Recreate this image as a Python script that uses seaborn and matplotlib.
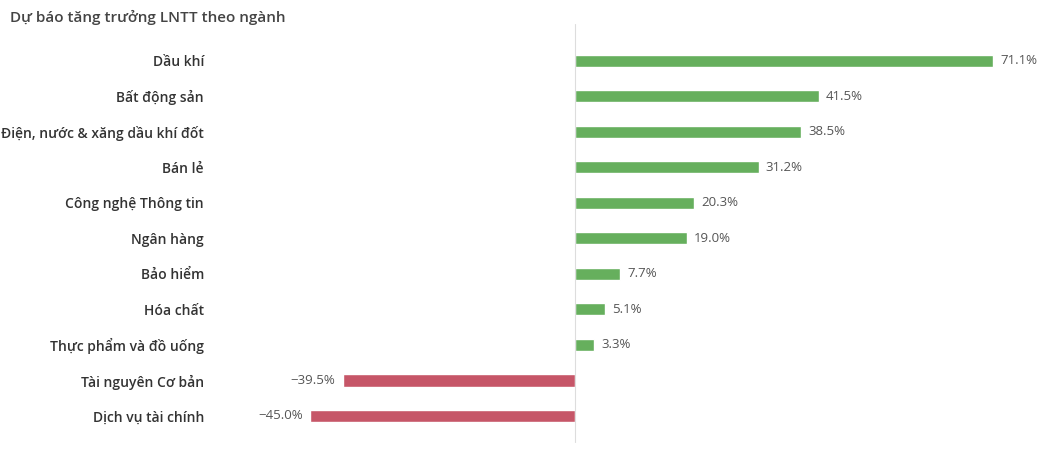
import matplotlib
matplotlib.use("Agg")
import matplotlib.pyplot as plt
import seaborn as sns
import pandas as pd

categories = ["Dầu khí", "Bất động sản", "Điện, nước & xăng dầu khí đốt", "Bán lẻ",
              "Công nghệ Thông tin", "Ngân hàng", "Bảo hiểm", "Hóa chất",
              "Thực phẩm và đồ uống", "Tài nguyên Cơ bản", "Dịch vụ tài chính"]
values = [71.1, 41.5, 38.5, 31.2, 20.3, 19.0, 7.7, 5.1, 3.3, -39.5, -45.0]
labels = ["71.1%", "41.5%", "38.5%", "31.2%", "20.3%", "19.0%", "7.7%", "5.1%", "3.3%", "-39.5%", "-45.0%"]

sns.set_theme(style="white")
plt.rcParams['font.family'] = ['Open Sans', 'DejaVu Sans']

df = pd.DataFrame({"cat": categories, "val": values})
green, red = "#5BBD4F", "#D9435B"
palette = [green if v >= 0 else red for v in values]

fig = plt.figure(figsize=(10.53, 4.49), dpi=100)
ax = fig.add_axes([215/1053, 0.034, 820/1053, 0.87])
sns.barplot(data=df, x="val", y="cat", hue="cat", palette=palette, legend=False,
            width=0.34, ax=ax, orient="h")
ax.set_xlim(-61.2, 78.2)
ax.set_ylim(10.5, -0.5)
ax.axvline(0, color="#dddddd", lw=0.8, ymin=-0.02, ymax=1.05, clip_on=False)
for s in ax.spines.values():
    s.set_visible(False)
ax.set_xticks([])
ax.set_xlabel("")
ax.set_ylabel("")
ax.tick_params(axis="y", length=0, pad=8)
for t in ax.get_yticklabels():
    t.set_fontsize(10)
    t.set_fontweight("semibold")
    t.set_color("#333333")
for i, (v, l) in enumerate(zip(values, labels)):
    if v >= 0:
        ax.text(v + 1.2, i, l, va="center", ha="left", fontsize=9.5, color="#555555")
    else:
        ax.text(v - 1.2, i, l.replace("-", "−"), va="center", ha="right", fontsize=9.5, color="#555555")
fig.text(10/1053, 1 - 17/449, "Dự báo tăng trưởng LNTT theo ngành", fontsize=11,
         fontweight="semibold", color="#444444", va="center", ha="left")
fig.savefig("out.png", dpi=100)
